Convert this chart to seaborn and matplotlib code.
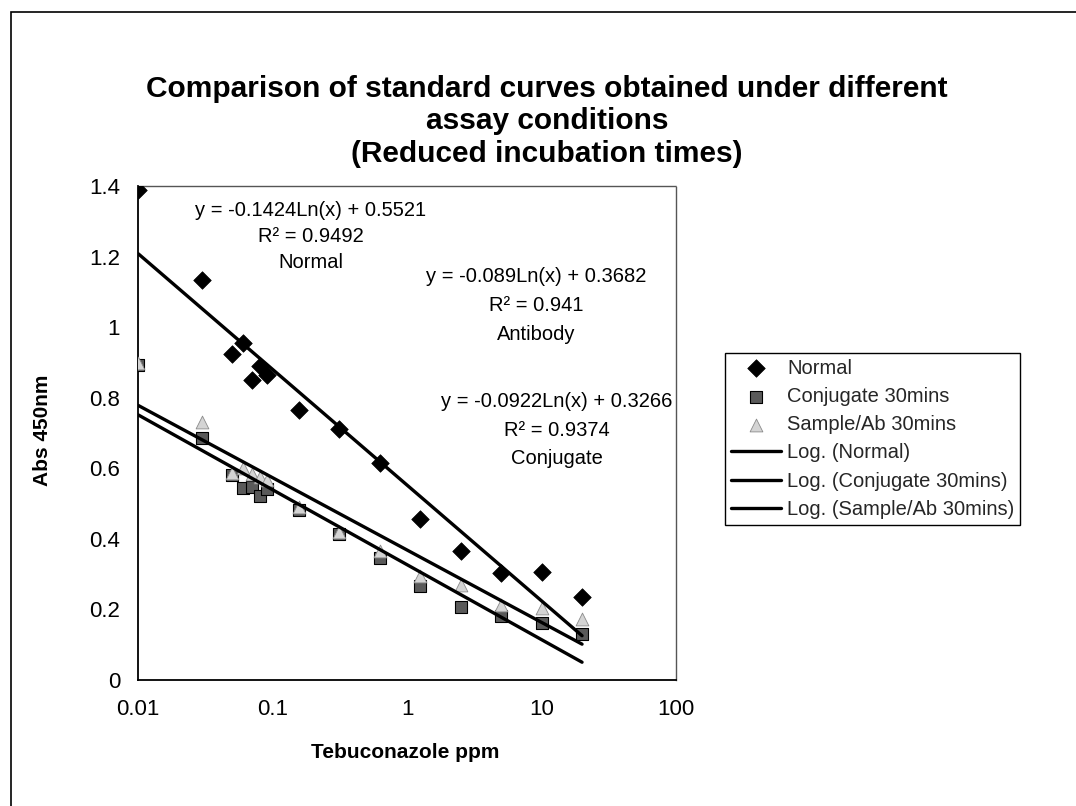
import numpy as np
import pandas as pd
import matplotlib
matplotlib.use("Agg")
import matplotlib.pyplot as plt
import seaborn as sns
from matplotlib.patches import Rectangle

# ---------------- data ----------------
normal_x = [0.01, 0.03, 0.05, 0.06, 0.07, 0.08, 0.09, 0.156, 0.3125, 0.625, 1.25, 2.5, 5, 10, 20]
normal_y = [1.39, 1.135, 0.925, 0.955, 0.850, 0.890, 0.865, 0.765, 0.712, 0.615, 0.457, 0.366, 0.303, 0.307, 0.234]

conj_x = [0.01, 0.03, 0.05, 0.06, 0.07, 0.08, 0.09, 0.156, 0.3125, 0.625, 1.25, 2.5, 5, 10, 20]
conj_y = [0.893, 0.685, 0.580, 0.543, 0.547, 0.521, 0.540, 0.482, 0.413, 0.347, 0.267, 0.207, 0.182, 0.161, 0.130]

samp_x = [0.01, 0.03, 0.05, 0.06, 0.07, 0.08, 0.09, 0.156, 0.3125, 0.625, 1.25, 2.5, 5, 10, 20]
samp_y = [0.897, 0.730, 0.587, 0.600, 0.583, 0.575, 0.568, 0.489, 0.420, 0.366, 0.295, 0.270, 0.212, 0.203, 0.174]

# logarithmic trendline coefficients (y = a*Ln(x) + b) as printed on the chart
fit_normal = (-0.1424, 0.5521)
fit_conj = (-0.0922, 0.3266)
fit_samp = (-0.089, 0.3682)

series_names = ["Normal", "Conjugate 30mins", "Sample/Ab 30mins"]
fit_names = ["Log. (Normal)", "Log. (Conjugate 30mins)", "Log. (Sample/Ab 30mins)"]

x_ticks = [0.01, 0.1, 1, 10, 100]
x_tick_labels = ["0.01", "0.1", "1", "10", "100"]
y_ticks = [0, 0.2, 0.4, 0.6, 0.8, 1.0, 1.2, 1.4]
y_tick_labels = ["0", "0.2", "0.4", "0.6", "0.8", "1", "1.2", "1.4"]

title_lines = ["Comparison of standard curves obtained under different",
               "assay conditions",
               "(Reduced incubation times)"]

# ---------------- style ----------------
sns.set_theme(style="white")
plt.rcParams['font.family'] = ['Liberation Sans', 'DejaVu Sans']

W, H = 1076, 806
fig = plt.figure(figsize=(W / 100, H / 100), dpi=100)
fig.patch.set_facecolor("white")

def fx(px):
    return px / W

def fy(py):
    return 1 - py / H

ax_l, ax_r, ax_t, ax_b = 138.3, 676, 186, 680
ax = fig.add_axes([fx(ax_l), fy(ax_b), fx(ax_r - ax_l), (ax_b - ax_t) / H])

pts = pd.concat([
    pd.DataFrame({"x": normal_x, "y": normal_y, "series": series_names[0]}),
    pd.DataFrame({"x": conj_x, "y": conj_y, "series": series_names[1]}),
    pd.DataFrame({"x": samp_x, "y": samp_y, "series": series_names[2]}),
], ignore_index=True)

sns.scatterplot(data=pts[pts.series == series_names[0]], x="x", y="y", ax=ax,
                marker="D", s=80, color="black", edgecolor="black", linewidth=0.5,
                label=series_names[0], zorder=3)
sns.scatterplot(data=pts[pts.series == series_names[1]], x="x", y="y", ax=ax,
                marker="s", s=75, color="#5a5a5a", edgecolor="black", linewidth=0.8,
                label=series_names[1], zorder=3)
sns.scatterplot(data=pts[pts.series == series_names[2]], x="x", y="y", ax=ax,
                marker="^", s=85, color="#d4d4d4", edgecolor="#8a8a8a", linewidth=0.6,
                label=series_names[2], zorder=3)

# trendlines evaluated at the measured concentrations
fit_df = pd.concat([
    pd.DataFrame({"x": normal_x, "y": fit_normal[0] * np.log(normal_x) + fit_normal[1], "fit": fit_names[0]}),
    pd.DataFrame({"x": conj_x, "y": fit_conj[0] * np.log(conj_x) + fit_conj[1], "fit": fit_names[1]}),
    pd.DataFrame({"x": samp_x, "y": fit_samp[0] * np.log(samp_x) + fit_samp[1], "fit": fit_names[2]}),
], ignore_index=True)
for name in fit_names:
    sns.lineplot(data=fit_df[fit_df.fit == name], x="x", y="y", ax=ax,
                 color="black", linewidth=2.4, label=name, zorder=4,
                 sort=True, estimator=None)

ax.set_xscale("log")
ax.set_xlim(0.01, 100)
ax.set_ylim(0, 1.4)
ax.set_xticks(x_ticks)
ax.set_xticklabels(x_tick_labels)
ax.xaxis.set_minor_locator(matplotlib.ticker.NullLocator())
ax.set_yticks(y_ticks)
ax.set_yticklabels(y_tick_labels)
ax.tick_params(axis="both", which="major", direction="inout", length=12, width=1,
               color="black", labelsize=16, labelcolor="black", pad=7)
ax.tick_params(axis="x", pad=8)

for side in ["left", "bottom"]:
    ax.spines[side].set_visible(True)
    ax.spines[side].set_color("black")
    ax.spines[side].set_linewidth(1.3)
for side in ["top", "right"]:
    ax.spines[side].set_visible(True)
    ax.spines[side].set_color("#555555")
    ax.spines[side].set_linewidth(1.0)
    ax.spines[side].set_linestyle((0, (1, 1)))

ax.set_xlabel("Tebuconazole ppm", fontsize=15, fontweight="bold", color="black")
ax.set_ylabel("Abs 450nm", fontsize=15, fontweight="bold", color="black")
ax.xaxis.set_label_coords((405 - ax_l) / (ax_r - ax_l), (ax_b - 752) / (ax_b - ax_t))
ax.xaxis.label.set_va("center")
ax.yaxis.set_label_coords((42 - ax_l) / (ax_r - ax_l), (ax_b - 430) / (ax_b - ax_t))
ax.yaxis.label.set_va("center")

# legend
handles, labels = ax.get_legend_handles_labels()
order = [labels.index(n) for n in series_names + fit_names]
leg = ax.legend([handles[i] for i in order], [labels[i] for i in order],
                loc="upper left", bbox_to_anchor=(fx(725), fy(353)),
                bbox_transform=fig.transFigure, frameon=True, fancybox=False,
                edgecolor="black", fontsize=14.5, handlelength=2.5,
                handletextpad=0.3, labelspacing=0.46, borderpad=0.28,
                borderaxespad=0, framealpha=1)
leg.get_frame().set_linewidth(1.0)

# trendline annotations
ann = [
    (311, [210, 237, 263], ["y = -0.1424Ln(x) + 0.5521", "R\u00b2 = 0.9492", "Normal"]),
    (536.5, [277, 306, 335], ["y = -0.089Ln(x) + 0.3682", "R\u00b2 = 0.941", "Antibody"]),
    (556.5, [402, 430, 458], ["y = -0.0922Ln(x) + 0.3266", "R\u00b2 = 0.9374", "Conjugate"]),
]
for cx, ys, texts in ann:
    for yy, t in zip(ys, texts):
        fig.text(fx(cx), fy(yy), t, ha="center", va="center", fontsize=14.5, color="black")

# title
for yy, t in zip([89, 121, 154], title_lines):
    fig.text(fx(547), fy(yy), t, ha="center", va="center", fontsize=21.5,
             fontweight="bold", color="black")

# outer chart frame
fig.add_artist(Rectangle((fx(11), -0.1), 1.2, fy(12) + 0.1, transform=fig.transFigure,
                         fill=False, edgecolor="black", linewidth=1.2, clip_on=False))

fig.savefig("out.png", dpi=100, facecolor="white")
